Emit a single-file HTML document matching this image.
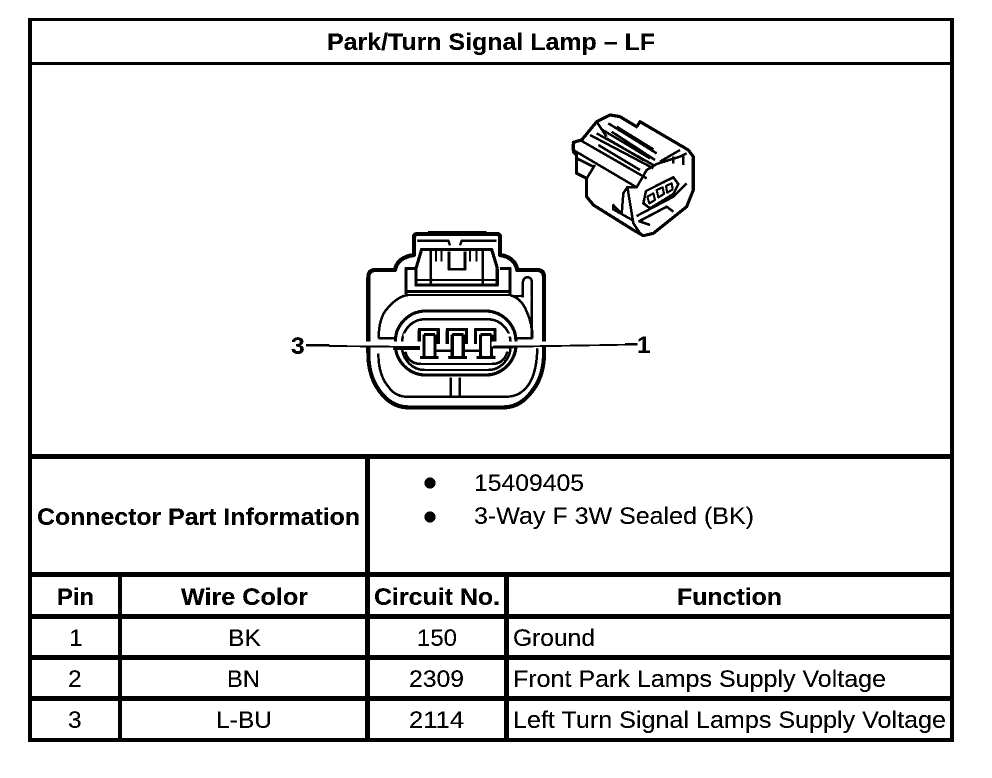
<!DOCTYPE html>
<html>
<head>
<meta charset="utf-8">
<style>
html,body{margin:0;padding:0;background:#fff;width:992px;height:778px;overflow:hidden}
svg{display:block}
text{font-family:"Liberation Sans",sans-serif;font-size:24.5px;fill:#000}
.b{font-weight:bold}
</style>
</head>
<body>
<svg width="992" height="778" viewBox="0 0 992 778" xmlns="http://www.w3.org/2000/svg">
<defs>
<filter id="t" x="0" y="0" width="100%" height="100%" color-interpolation-filters="sRGB">
<feComponentTransfer>
<feFuncR type="discrete" tableValues="0 0 1"/>
<feFuncG type="discrete" tableValues="0 0 1"/>
<feFuncB type="discrete" tableValues="0 0 1"/>
</feComponentTransfer>
</filter>
</defs>
<rect width="992" height="778" fill="#fff"/>
<g filter="url(#t)">
<rect width="992" height="778" fill="#fff"/>
<!-- table lines -->
<g fill="#000">
<rect x="28" y="18" width="926" height="3"/>
<rect x="28" y="18" width="4" height="724"/>
<rect x="950" y="18" width="4" height="724"/>
<rect x="28" y="738" width="926" height="4"/>
<rect x="28" y="62" width="926" height="3"/>
<rect x="28" y="454" width="926" height="5"/>
<rect x="28" y="572" width="926" height="5"/>
<rect x="28" y="614" width="926" height="5"/>
<rect x="28" y="655" width="926" height="5"/>
<rect x="28" y="696" width="926" height="5"/>
<rect x="118" y="572" width="4" height="170"/>
<rect x="365" y="454" width="5" height="288"/>
<rect x="504" y="572" width="5" height="170"/>
</g>
<!-- text -->
<text class="b" x="327" y="50" textLength="328" lengthAdjust="spacingAndGlyphs">Park/Turn Signal Lamp – LF</text>
<text class="b" x="37" y="525" textLength="323" lengthAdjust="spacingAndGlyphs">Connector Part Information</text>
<circle cx="430" cy="483" r="5.5"/>
<circle cx="430" cy="517" r="5.5"/>
<text x="474" y="491" textLength="110" lengthAdjust="spacingAndGlyphs">15409405</text>
<text x="474" y="524" textLength="280" lengthAdjust="spacingAndGlyphs">3-Way F 3W Sealed (BK)</text>
<text class="b" x="57" y="605" textLength="37" lengthAdjust="spacingAndGlyphs">Pin</text>
<text class="b" x="181" y="605" textLength="127" lengthAdjust="spacingAndGlyphs">Wire Color</text>
<text class="b" x="374" y="605" textLength="126" lengthAdjust="spacingAndGlyphs">Circuit No.</text>
<text class="b" x="677" y="605" textLength="105" lengthAdjust="spacingAndGlyphs">Function</text>
<text x="69" y="646">1</text>
<text x="68" y="687">2</text>
<text x="68" y="728">3</text>
<text x="228" y="646" textLength="33" lengthAdjust="spacingAndGlyphs">BK</text>
<text x="227" y="687" textLength="33" lengthAdjust="spacingAndGlyphs">BN</text>
<text x="216" y="728" textLength="56" lengthAdjust="spacingAndGlyphs">L-BU</text>
<text x="417" y="646" textLength="40" lengthAdjust="spacingAndGlyphs">150</text>
<text x="409" y="687" textLength="55" lengthAdjust="spacingAndGlyphs">2309</text>
<text x="409" y="728" textLength="55" lengthAdjust="spacingAndGlyphs">2114</text>
<text x="513" y="646" textLength="82" lengthAdjust="spacingAndGlyphs">Ground</text>
<text x="513" y="687" textLength="373" lengthAdjust="spacingAndGlyphs">Front Park Lamps Supply Voltage</text>
<text x="513" y="728" textLength="433" lengthAdjust="spacingAndGlyphs">Left Turn Signal Lamps Supply Voltage</text>
<text class="b" x="291" y="354">3</text>
<text class="b" x="637" y="353">1</text>

<!-- front-view connector -->
<g transform="translate(280,220) scale(.33333)" fill="none" stroke="#000" stroke-linejoin="round">
<path stroke-width="12" d="M265 400V172Q265 150 287 150H345Q352 112 402 105V52Q402 42 414 42H650Q660 42 660 52V105Q705 112 712 150H772Q792 150 792 172V400Q792 470 755 515Q720 562 670 562H385Q335 562 300 515Q265 470 265 400Z"/>
<path stroke-width="7" d="M295 400Q295 465 325 500Q345 530 380 530H680Q720 530 745 495Q770 460 772 385"/>
<path stroke-width="7" d="M296 355Q296 290 325 262Q355 228 385 225H690Q725 235 740 275Q757 310 757 355"/>
<path stroke-width="7" d="M296 355H342M712 355H757"/>
<path stroke-width="9" d="M378 222V145H408M690 225V145H660M375 215H690"/>
<path stroke-width="9" d="M408 145V195H652V145"/>
<path stroke-width="9" d="M408 145L425 88H635L652 145"/>
<path stroke-width="7" d="M408 180H652M453 88V195M608 88V195"/>
<path stroke-width="8" d="M507 95V148H555V95"/>
<path stroke-width="6" d="M468 92V125M485 92V125M570 92V125M590 92V125"/>
<path stroke-width="7" d="M445 36H620M412 62H505L510 76M650 62H545L540 76"/>
<path stroke-width="7" d="M728 232V190Q730 172 742 172Q756 172 756 190V355"/>
<path stroke-width="7" d="M700 228H728"/>
<rect x="346" y="273" width="362" height="192" rx="92" ry="92" stroke-width="9"/>
<rect x="366" y="298" width="326" height="152" rx="68" ry="72" stroke-width="7"/>
<path stroke-width="7" d="M376 395Q385 432 425 432H635Q672 432 682 395"/>
<path stroke="#fff" stroke-width="10" d="M370 345H415M650 345H700M475 345V390"/>
<!-- pins -->
<g stroke-width="9">
<path d="M418 372V328H475V372"/>
<path d="M502 372V328H560V372"/>
<path d="M587 372V328H645V372"/>
<path d="M432 344H465M432 344V412M465 344V412M420 412H476"/>
<path d="M517 344H550M517 344V412M550 344V412M505 412H561"/>
<path d="M602 344H635M602 344V412M635 344V412M590 412H646"/>
</g>
<path stroke-width="7" d="M465 392H517M550 392H602"/>
<path stroke-width="7" d="M512 472V528M540 472V528"/>
<!-- leaders -->
<path stroke="#fff" stroke-width="14" d="M150 372H425M635 372H800"/>
<path stroke-width="8" d="M78 376H148"/>
<path stroke-width="5" d="M148 378L420 381"/>
<path stroke-width="5" d="M640 381L1040 374"/>
<path stroke-width="8" d="M1036 373H1072"/>
<path stroke-width="8" d="M340 386H420M640 381H700"/>
</g>

<!-- isometric connector -->
<g transform="translate(540,90) scale(.33333)" fill="none" stroke="#000" stroke-width="7" stroke-linejoin="round">
<path stroke-width="9" d="M100 157V185L110 195V250L140 265V320L160 345L280 420L310 437L340 430L440 350L460 300V200L445 180L300 95L290 110L240 80L210 75L170 95L125 150Z"/>
<path d="M100 180L290 292L320 240L350 222L420 200L440 190"/>
<path d="M120 150L320 265M150 135L340 235"/>
<path d="M170 130L340 225M200 145L310 210M175 165L300 240M215 125L345 210M230 110L340 178M170 95L200 140M185 118L330 205M205 100L350 190"/>
<path d="M420 180L360 215M400 200V220M430 195V225"/>
<path d="M140 265L165 225M110 205L160 230"/>
<path d="M290 292H262L250 310L245 372L220 345V358L280 392M262 290L280 400L300 430"/>
<path d="M318 303L400 262L415 282L400 312L330 355L310 340Z"/>
<path stroke-width="6" d="M322 320L340 310L345 330L328 340ZM350 300L368 292L372 312L355 322ZM378 288L395 280L398 298L382 308Z"/>
<path d="M290 378L400 320L440 280M295 395L380 350L400 365M300 395L330 405"/>
</g>
</g>
</svg>
</body>
</html>
